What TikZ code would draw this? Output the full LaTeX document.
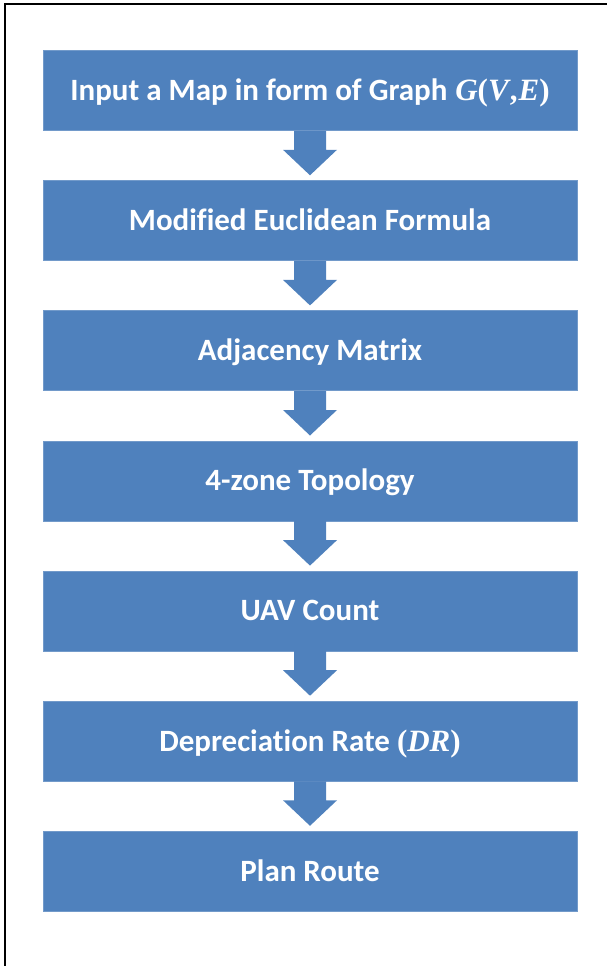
\documentclass[tikz,border=0pt]{standalone}
\usepackage{fontspec}
\setmainfont{Carlito}[Ligatures=NoCommon]
\newfontfamily\formulafont{Liberation Serif}
\newcommand\formula[1]{{\formulafont\bfseries #1}}
\usetikzlibrary{positioning, calc}
\definecolor{stepblue}{RGB}{79,129,189}
\tikzset{
  stepbox/.style={fill=stepblue, draw=stepblue!80!white, line width=0.6pt,
    minimum width=534pt, minimum height=80pt, inner sep=0pt,
    text height=20pt, text depth=0pt,
    text=white, font=\fontsize{31}{36}\selectfont\bfseries},
  flow/.style={fill=stepblue}
}

\begin{document}
\begin{tikzpicture}[x=1pt, y=-1pt, node distance=49.5pt]
    \useasboundingbox (0,0) rectangle (606,966);
    % frame (only left and top edges show)
    \draw[line width=2.5pt] (5,1000) -- (5,4) -- (700,4);

    \node[stepbox] (s1) at (310,90.5) {Input a Map in form of Graph \formula{\kern1pt\textit{G}(\textit{V\/}\kern-1pt,\kern1pt\textit{E\/})}};
    \node[stepbox, below=of s1] (s2) {Modified Euclidean Formula};
    \node[stepbox, below=of s2] (s3) {Adjacency Matrix};
    \node[stepbox, below=of s3] (s4) {4-zone Topology};
    \node[stepbox, below=of s4] (s5) {UAV Count};
    \node[stepbox, below=of s5] (s6) {Depreciation Rate \formula{(\textit{DR\/})}};
    \node[stepbox, below=of s6] (s7) {Plan Route};

    % block arrows
    \foreach \a/\b in {s1/s2, s2/s3, s3/s4, s4/s5, s5/s6, s6/s7}
        \fill[flow] ($(\a.south)+(-16,0)$) -- ($(\a.south)+(-16,19)$)
            -- ($(\a.south)+(-27,19)$) -- ($(\b.north)+(0,-5)$)
            -- ($(\a.south)+(27,19)$) -- ($(\a.south)+(16,19)$)
            -- ($(\a.south)+(16,0)$) -- cycle;
\end{tikzpicture}
\end{document}
